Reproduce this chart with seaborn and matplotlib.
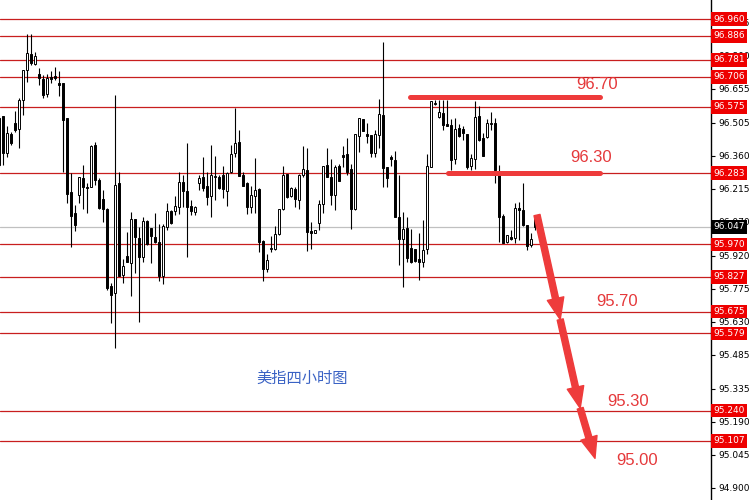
import numpy as np
import pandas as pd
import matplotlib
matplotlib.use("Agg")
import matplotlib.pyplot as plt
import seaborn as sns

# ---------------- data ----------------
opens = [96.526, 96.534, 96.372, 96.455, 96.504, 96.477, 96.605, 96.736, 96.807, 96.763,
         96.719, 96.697, 96.631, 96.706, 96.710, 96.679, 96.679, 96.526, 96.200, 96.108,
         96.187, 96.262, 96.222, 96.222, 96.407, 96.253, 96.170, 96.126, 95.787, 95.757,
         96.240, 95.836, 95.919, 95.888, 96.082, 95.998, 95.915, 96.073, 96.043, 96.003,
         95.981, 95.831, 96.047, 96.117, 96.117, 96.135, 96.245, 96.205, 96.139, 96.113,
         96.240, 96.266, 96.227, 96.183, 96.266, 96.266, 96.275, 96.205, 96.288, 96.372,
         96.420, 96.275, 96.240, 96.135, 96.183, 96.214, 95.985, 95.862, 95.950, 95.950,
         96.016, 96.126, 96.280, 96.183, 96.214, 96.166, 96.275, 96.297, 96.029, 96.020,
         96.064, 96.148, 96.319, 96.266, 96.187, 96.315, 96.363, 96.367, 96.302, 96.126,
         96.447, 96.521, 96.455, 96.451, 96.372, 96.451, 96.539, 96.310, 96.354, 96.341,
         96.091, 95.994, 96.043, 95.954, 95.950, 95.906, 95.893, 95.950, 96.310, 96.587,
         96.530, 96.548, 96.499, 96.495, 96.346, 96.482, 96.477, 96.455, 96.315, 96.346,
         96.534, 96.438, 96.442, 96.499, 96.504, 96.280, 96.095, 95.981, 96.003, 95.998,
         96.130, 96.122, 96.056, 95.968, 96.091]
highs = [96.534, 96.534, 96.490, 96.464, 96.557, 96.614, 96.736, 96.895, 96.895, 96.816,
         96.745, 96.715, 96.719, 96.732, 96.750, 96.732, 96.679, 96.526, 96.284, 96.144,
         96.266, 96.319, 96.240, 96.407, 96.420, 96.262, 96.209, 96.130, 95.800, 96.627,
         96.288, 95.906, 96.025, 96.113, 96.082, 96.047, 96.091, 96.078, 96.043, 96.108,
         96.060, 96.060, 96.152, 96.122, 96.183, 96.288, 96.275, 96.416, 96.166, 96.139,
         96.275, 96.354, 96.288, 96.407, 96.359, 96.275, 96.315, 96.288, 96.407, 96.570,
         96.473, 96.288, 96.245, 96.227, 96.350, 96.218, 95.990, 95.928, 96.007, 96.051,
         96.126, 96.315, 96.280, 96.222, 96.222, 96.280, 96.403, 96.394, 96.069, 96.034,
         96.166, 96.315, 96.394, 96.346, 96.319, 96.324, 96.403, 96.438, 96.324, 96.455,
         96.526, 96.521, 96.504, 96.451, 96.473, 96.609, 96.859, 96.310, 96.363, 96.381,
         96.275, 96.113, 96.091, 96.038, 95.950, 96.020, 96.078, 96.367, 96.600, 96.605,
         96.605, 96.605, 96.605, 96.521, 96.526, 96.499, 96.490, 96.455, 96.367, 96.600,
         96.578, 96.460, 96.521, 96.552, 96.526, 96.319, 96.104, 96.012, 96.034, 96.152,
         96.157, 96.240, 96.056, 96.020, 96.100]
lows = [96.310, 96.319, 96.354, 96.407, 96.464, 96.394, 96.539, 96.684, 96.758, 96.758,
        96.671, 96.614, 96.618, 96.679, 96.693, 96.622, 96.288, 96.152, 95.959, 96.029,
        96.152, 96.126, 96.108, 96.222, 96.231, 96.126, 96.069, 95.770, 95.625, 95.515,
        95.831, 95.800, 95.893, 95.743, 95.845, 95.629, 95.893, 95.968, 95.888, 95.976,
        95.809, 95.796, 96.034, 96.060, 96.100, 96.104, 96.135, 95.915, 96.100, 96.100,
        96.209, 96.205, 96.144, 96.091, 96.166, 96.214, 96.174, 96.139, 96.284, 96.354,
        96.271, 96.227, 96.104, 96.108, 96.108, 95.937, 95.809, 95.849, 95.937, 95.946,
        96.012, 96.122, 96.174, 96.179, 96.135, 96.126, 96.266, 95.941, 95.950, 96.020,
        96.034, 96.108, 96.266, 96.144, 96.122, 96.249, 96.310, 96.275, 96.038, 96.122,
        96.376, 96.468, 96.416, 96.354, 96.354, 96.394, 96.222, 96.222, 96.315, 96.091,
        95.880, 95.783, 95.893, 95.888, 95.893, 95.814, 95.871, 95.928, 96.310, 96.583,
        96.526, 96.473, 96.490, 96.297, 96.324, 96.442, 96.429, 96.302, 96.297, 96.302,
        96.425, 96.359, 96.438, 96.473, 96.240, 95.981, 95.976, 95.976, 95.990, 95.976,
        95.990, 96.051, 95.946, 95.959, 96.034]
closes = [96.319, 96.372, 96.460, 96.416, 96.473, 96.605, 96.736, 96.811, 96.767, 96.798,
          96.701, 96.627, 96.701, 96.697, 96.701, 96.671, 96.517, 96.192, 96.095, 96.056,
          96.266, 96.222, 96.218, 96.403, 96.253, 96.130, 96.126, 95.778, 95.748, 96.231,
          95.831, 95.875, 95.893, 96.082, 96.003, 95.915, 96.073, 95.972, 96.007, 95.981,
          95.831, 96.051, 96.117, 96.064, 96.139, 96.245, 96.205, 96.135, 96.117, 96.135,
          96.262, 96.218, 96.179, 96.275, 96.271, 96.218, 96.214, 96.284, 96.367, 96.416,
          96.271, 96.227, 96.135, 96.187, 96.209, 95.981, 95.862, 95.902, 95.954, 96.016,
          96.126, 96.275, 96.179, 96.218, 96.170, 96.275, 96.302, 96.025, 96.020, 96.034,
          96.148, 96.315, 96.266, 96.187, 96.310, 96.249, 96.354, 96.288, 96.126, 96.455,
          96.526, 96.468, 96.447, 96.372, 96.455, 96.543, 96.306, 96.262, 96.346, 96.091,
          95.994, 96.038, 95.910, 95.893, 95.897, 95.893, 95.946, 96.315, 96.600, 96.592,
          96.552, 96.495, 96.490, 96.341, 96.477, 96.447, 96.460, 96.310, 96.350, 96.530,
          96.429, 96.359, 96.504, 96.504, 96.297, 96.091, 95.976, 96.012, 95.994, 96.130,
          96.122, 96.056, 95.963, 95.994, 96.047]

levels = [96.960, 96.886, 96.781, 96.706, 96.575, 96.283,
          95.970, 95.827, 95.675, 95.579, 95.240, 95.107]
last_price = 96.047
yticks = [96.945, 96.800, 96.655, 96.505, 96.360, 96.215, 96.070, 95.920,
          95.775, 95.630, 95.485, 95.335, 95.190, 95.045, 94.900]

# hand-drawn marks: resistance strokes (price, start bar, end bar)
stroke_prices = [96.618, 96.286]
stroke_start = [102.75, 112.25]
stroke_end = [150.25, 150.25]
stroke_labels = ["96.70", "96.30"]
stroke_label_x = [149.5, 148.0]
stroke_label_y = [96.671, 96.350]

# projected path (bar, price) for the three arrows
path_x = [134.5, 140.3, 145.3, 149.0]
path_y = [96.099, 95.640, 95.250, 95.030]
target_labels = ["95.70", "95.30", "95.00"]
target_x = [154.5, 157.25, 159.5]
target_y = [95.721, 95.282, 95.022]

title = "美指四小时图"

# ---------------- drawing ----------------
sns.set_theme(style="white")
plt.rcParams['font.family'] = ['DejaVu Sans']

df = pd.DataFrame({"o": opens, "h": highs, "l": lows, "c": closes})
df["x"] = np.arange(len(df))
df["up"] = df["c"] >= df["o"]
df["bottom"] = df[["o", "c"]].min(axis=1)
df["height"] = (df["c"] - df["o"]).abs().clip(lower=0.002)

fig = plt.figure(figsize=(7.5, 5), dpi=100)
ax = fig.add_axes([0, 0, 711 / 750, 1])
ax.set_xlim(0.25, 178)
ax.set_ylim(94.847, 97.044)

# level lines
for lv in levels:
    ax.axhline(lv, color="#c81e1e", lw=0.9, zorder=1)
ax.axhline(last_price, color="#c0c0c0", lw=0.9, zorder=1)

# candles
ax.vlines(df["x"], df["l"], df["h"], color="black", lw=0.8, zorder=2)
ax.bar(df["x"], df["height"], bottom=df["bottom"], width=0.66,
       color=np.where(df["up"], "white", "black"), edgecolor="black",
       linewidth=0.7, zorder=3)

# red hand-drawn strokes
red = "#ee3b3b"
for p, s, e in zip(stroke_prices, stroke_start, stroke_end):
    ax.plot([s, e], [p, p], color=red, lw=3.6, solid_capstyle="round", zorder=4)
for t, x, y in zip(stroke_labels, stroke_label_x, stroke_label_y):
    ax.text(x, y, t, color="#e5393b", fontsize=12, family=["Liberation Sans"],
            ha="center", va="center", zorder=5)

for i in range(len(path_x) - 1):
    ax.annotate("", xy=(path_x[i + 1], path_y[i + 1]), xytext=(path_x[i], path_y[i]),
                arrowprops=dict(arrowstyle="simple,head_length=0.7,head_width=0.55,tail_width=0.2",
                                color=red, mutation_scale=22, shrinkA=0, shrinkB=0),
                zorder=5)
for t, x, y in zip(target_labels, target_x, target_y):
    ax.text(x, y, t, color="#e5393b", fontsize=12, family=["Liberation Sans"],
            ha="center", va="center", zorder=5)

ax.text(75.75, 95.383, title, color="#3a62c4", fontsize=11,
        family=["Noto Sans CJK SC", "DejaVu Sans"], ha="center", va="center")

# axis styling
for side in ["left", "top", "bottom"]:
    ax.spines[side].set_visible(False)
ax.spines["right"].set_color("black")
ax.spines["right"].set_linewidth(1.0)
ax.yaxis.tick_right()
ax.set_yticks(yticks)
ax.set_yticklabels([f"{v:.3f}" for v in yticks])
ax.tick_params(axis="y", which="both", right=True, left=False, length=3, width=0.8,
               color="black", labelsize=6.5, pad=2, labelcolor="black")
ax.set_xticks([])
ax.grid(False)

# price tags on the right axis
ytrans = ax.get_yaxis_transform()
for lv in levels:
    ax.text(1.003, lv, f"{lv:.3f}", transform=ytrans, color="white", fontsize=6.5,
            ha="left", va="center", clip_on=False, zorder=6,
            bbox=dict(facecolor="#ee0000", edgecolor="none", pad=1.7))
ax.text(1.003, last_price, f"{last_price:.3f}", transform=ytrans, color="white",
        fontsize=6.5, ha="left", va="center", clip_on=False, zorder=6,
        bbox=dict(facecolor="black", edgecolor="none", pad=1.7))

fig.savefig("out.png", dpi=100)
